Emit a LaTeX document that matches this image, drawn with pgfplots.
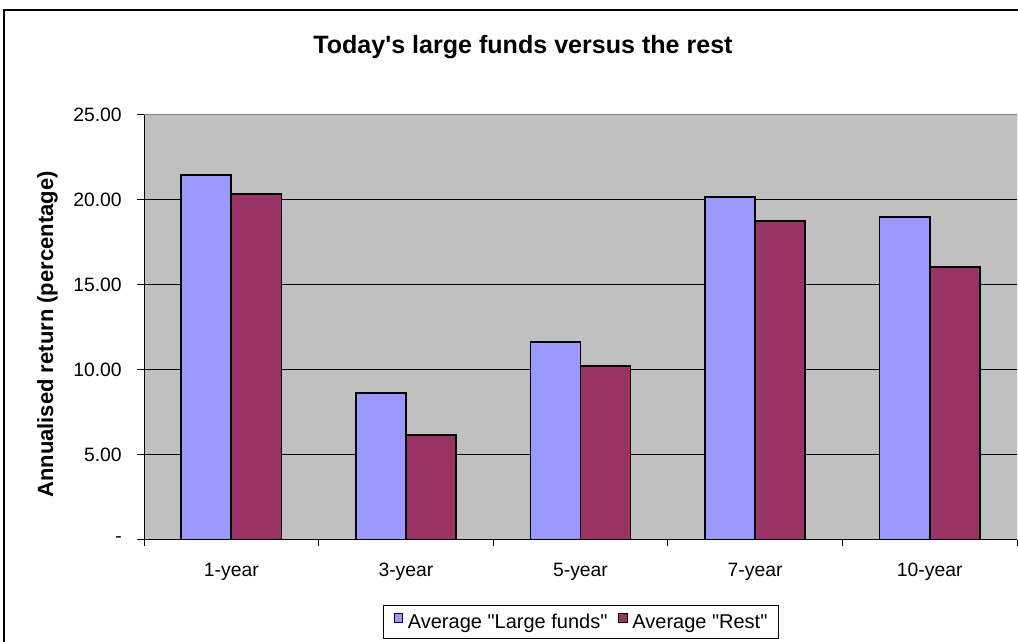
\documentclass[border=0pt]{standalone}
\usepackage{fontspec}
\setmainfont{Liberation Sans}[Ligatures=TeXOff]
\usepackage{pgfplots}
\pgfplotsset{compat=1.18}
\definecolor{plotbg}{HTML}{C0C0C0}
\definecolor{large}{HTML}{9999FF}
\definecolor{rest}{HTML}{993366}
\definecolor{bordergray}{HTML}{808080}
\begin{document}
\begin{tikzpicture}
\useasboundingbox (0,0) rectangle (763.5pt,481.5pt);
\clip (0,0) rectangle (763.5pt,481.5pt);
\draw[black, line width=1.2pt] (3pt,-20pt) rectangle (800pt,474pt);
\node[anchor=base, font=\fontsize{18.8}{21}\selectfont\bfseries] at (392.25pt,441pt) {Today's large funds versus the rest};
\begin{axis}[
  at={(108pt,76.5pt)}, anchor=south west,
  width=654.75pt, height=318.75pt, scale only axis,
  xmin=-0.5, xmax=4.5, ymin=0, ymax=25,
  ybar=0pt, bar width=0.287,
  axis background/.style={fill=plotbg},
  axis x line*=bottom, axis y line*=left,
  axis line style={-, black, line width=0.75pt},
  tick align=outside,
  xtick={0,1,2,3,4},
  xticklabels={1-year,3-year,5-year,7-year,10-year},
  major x tick style={draw=none},
  minor xtick={-0.5,0.5,1.5,2.5,3.5,4.5},
  minor tick length=4.5pt,
  major tick length=5.25pt,
  tick style={black, line width=0.75pt},
  ytick={5,10,15,20},
  yticklabels={5.00,10.00,15.00,20.00},
  extra y ticks={0,25},
  extra y tick labels={-,25.00},
  extra y tick style={grid=none},
  ymajorgrids,
  grid style={black, line width=0.75pt},
  /pgf/number format/assume math mode=true,
  ticklabel style={font=\fontsize{14.5}{16}\selectfont},
  xticklabel style={anchor=base, yshift=-22pt, inner sep=0pt},
  yticklabel style={anchor=east, xshift=-11.25pt, inner sep=0pt},
  ylabel={Annualised return (percentage)},
  ylabel style={at={(axis description cs:-0.10424,0.48353)}, anchor=base, font=\fontsize{16.5}{18}\selectfont\bfseries},
  legend columns=2,
  legend style={at={(axis description cs:0.5,-0.15294)}, anchor=north,
    draw=black, line width=0.6pt, fill=white,
    font=\fontsize{15}{17}\selectfont,
    inner xsep=8pt, inner ysep=6pt,
    nodes={inner sep=0pt},
    /tikz/every even column/.append style={column sep=8pt},
    /tikz/every odd column/.append style={column sep=3.5pt}},
  legend image code/.code={\draw[#1, line width=0.75pt] (0pt,0pt) rectangle (6.5pt,6.5pt);},
]
\addplot[fill=large, draw=black, line width=1.3pt] coordinates {(0,21.47) (1,8.63) (2,11.63) (3,20.16) (4,19.00)};
\addlegendentry{Average "Large funds"}
\addplot[fill=rest, draw=black, line width=1.3pt] coordinates {(0,20.37) (1,6.16) (2,10.22) (3,18.78) (4,16.08)};
\addlegendentry{Average "Rest"\rule[-14pt]{0pt}{14pt}}
\draw[bordergray, line width=0.75pt] (rel axis cs:0,1) -- (rel axis cs:1,1) -- (rel axis cs:1,0);
\end{axis}
\end{tikzpicture}
\end{document}
